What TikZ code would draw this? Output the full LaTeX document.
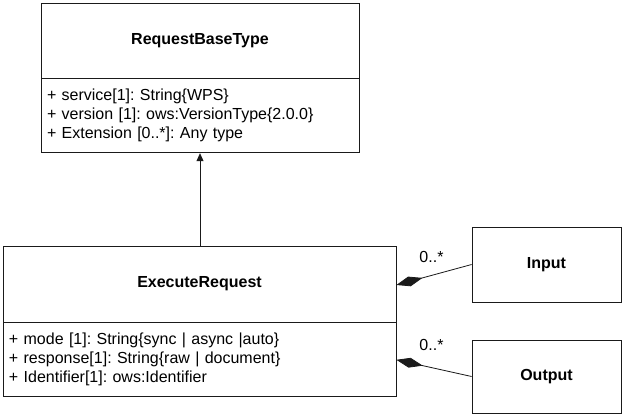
\documentclass[tikz,border=0pt]{standalone}
\usepackage{fontspec}
\setmainfont{Liberation Sans}
\usepackage{tikz}
\usetikzlibrary{arrows.meta,positioning}
\frenchspacing
\definecolor{umlline}{HTML}{1A1A1A}
\tikzset{
  classhead/.style={
    rectangle, draw=umlline, fill=white, line width=0.8pt,
    minimum width=#1, minimum height=75pt,
    font=\fontsize{16}{19}\selectfont\bfseries, align=center,
    inner sep=0pt
  },
  classhead/.default=318pt,
  classattr/.style={
    rectangle, draw=umlline, fill=white, line width=0.8pt,
    minimum width=#1, text width=#1-12pt, minimum height=74pt,
    font=\fontsize{16}{19}\selectfont, align=left,
    inner xsep=6pt, inner ysep=0pt
  },
  classattr/.default=318pt,
  genarrow/.style={
    -{Triangle[length=8pt,width=7pt]}, line width=0.8pt, color=umlline
  },
  comparrow/.style={
    {Diamond[length=27pt,width=10pt]}-, line width=0.8pt, color=umlline
  },
  multlabel/.style={
    font=\fontsize{16}{19}\selectfont, inner sep=0pt
  },
}
\begin{document}
\begin{tikzpicture}[x=1pt,y=-1pt]
  \useasboundingbox (0,0) rectangle (624,417);

  % Base type
  \node[classhead=318pt] at (200,40.5) (base) {RequestBaseType};
  \node[classattr=318pt, below=0pt of base] (baseattr) {+ service[1]: String\{WPS\}\\
    + version [1]: ows:VersionType\{2.0.0\}\\
    + Extension [0..*]: Any type};

  % Execute request
  \node[classhead=393pt, minimum height=76pt] at (199.5,284) (exec) {ExecuteRequest};
  \node[classattr=393pt, inner xsep=5pt, below=0pt of exec] (execattr) {+ mode [1]: String\{sync | async |auto\}\\
    + response[1]: String\{raw | document\}\\
    + Identifier[1]: ows:Identifier};
  \draw[genarrow] (exec.north -| baseattr.south) -- (baseattr.south);

  % Input and Output
  \node[classhead=149pt] at (546.5,264.5) (input) {Input};
  \node[classhead=149pt, minimum height=73pt] at (546.5,376.5) (output) {Output};
  \draw[comparrow] ([yshift=-1pt]exec.east) -- (input.west);
  \draw[comparrow] (execattr.east) -- (output.west);
  \node[multlabel] at (431.5,257) (inmult) {0..*};
  \node[multlabel] at (431.5,345) (outmult) {0..*};
\end{tikzpicture}
\end{document}
